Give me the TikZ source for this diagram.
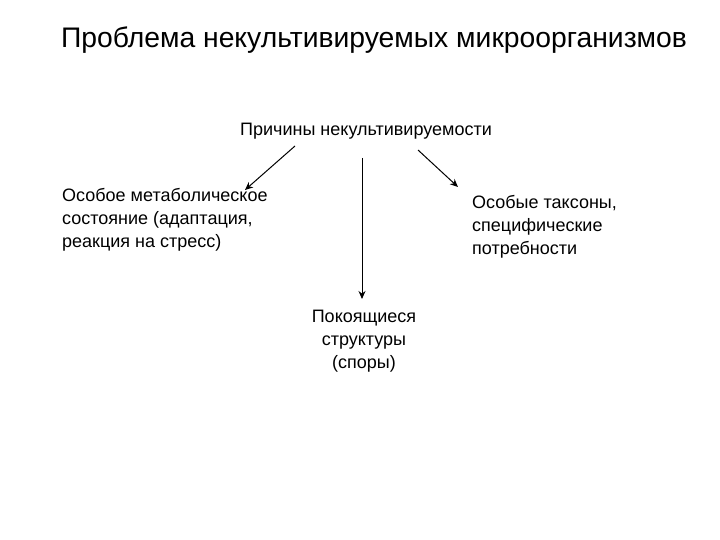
\documentclass[tikz,border=0pt]{standalone}
\usepackage{fontspec}
\usetikzlibrary{arrows.meta}
\setmainfont{Liberation Sans}
\begin{document}
\begin{tikzpicture}[x=1pt,y=-1pt,
  txt/.style={inner sep=0pt,font=\fontsize{18}{23}\selectfont,align=left},
  arr/.style={-{Stealth[length=8pt,width=7pt]},line width=1pt}]
\useasboundingbox (0,0) rectangle (720,540);
\node[inner sep=0pt,font=\fontsize{28.3}{32}\selectfont] (title) at (374,40) {Проблема некультивируемых микроорганизмов};
\node[txt] (cause) at (366,131) {Причины некультивируемости};
\node[txt,anchor=north west] (left) at (62,188) {Особое метаболическое\\состояние (адаптация,\\реакция на стресс)};
\node[txt,anchor=north west] (right) at (472,195) {Особые таксоны,\\специфические\\потребности};
\node[txt,align=center,anchor=north] (mid) at (364,310) {Покоящиеся\\структуры\\(споры)};
\coordinate (a1) at (295,146); \coordinate (b1) at (245,190);
\coordinate (a2) at (362,158); \coordinate (b2) at (362,299);
\coordinate (a3) at (418,150); \coordinate (b3) at (458,187);
\draw[arr] (a1) -- (b1);
\draw[arr] (a2) -- (b2);
\draw[arr] (a3) -- (b3);
\end{tikzpicture}
\end{document}
